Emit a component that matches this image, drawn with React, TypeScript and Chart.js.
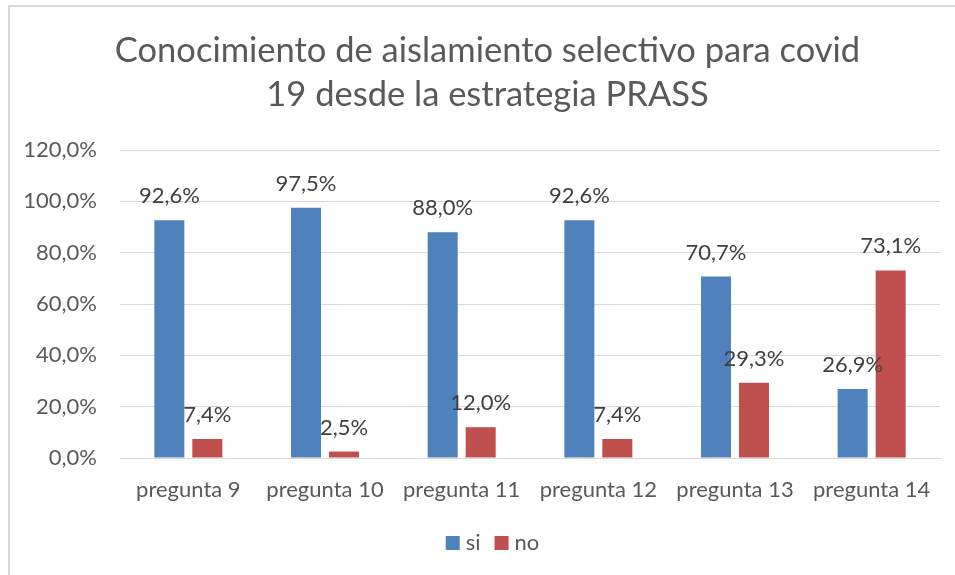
import React, { useEffect, useRef } from "react";
import { Chart, registerables } from "chart.js";

Chart.register(...registerables);

const categories = ["pregunta 9", "pregunta 10", "pregunta 11", "pregunta 12", "pregunta 13", "pregunta 14"];
const seriesNames = ["si", "no"];
const siValues = [92.6, 97.5, 88.0, 92.6, 70.7, 26.9];
const noValues = [7.4, 2.5, 12.0, 7.4, 29.3, 73.1];
const seriesColors = ["#4F81BD", "#C0504D"];
const titleLines = ["Conocimiento de aislamiento selectivo para covid", "19 desde la estrategia PRASS"];
const yMin = 0;
const yMax = 120;
const yStep = 20;

const FONT = "Lato, 'Open Sans', sans-serif";
const fmt = (v: number) => v.toFixed(1).replace(".", ",") + "%";

const titlePlugin = {
  id: "customTitle",
  afterDraw(chart: any) {
    const ctx = chart.ctx;
    ctx.save();
    ctx.font = `34.5px ${FONT}`;
    ctx.fillStyle = "#595959";
    ctx.textAlign = "center";
    ctx.textBaseline = "alphabetic";
    const cx = chart.width / 2 + 10;
    titleLines.forEach((line, i) => {
      ctx.fillText(line, cx, 62 + i * 43.5);
    });
    ctx.restore();
  },
};

const labelPlugin = {
  id: "barLabels",
  afterDatasetsDraw(chart: any) {
    const ctx = chart.ctx;
    ctx.save();
    ctx.font = `22px ${FONT}`;
    ctx.fillStyle = "#404040";
    ctx.textAlign = "center";
    ctx.textBaseline = "alphabetic";
    chart.data.datasets.forEach((ds: any, i: number) => {
      const meta = chart.getDatasetMeta(i);
      meta.data.forEach((bar: any, j: number) => {
        ctx.fillText(fmt(ds.data[j]), bar.x, bar.y - 17);
      });
    });
    ctx.restore();
  },
};

const legendPlugin = {
  id: "customLegend",
  afterDraw(chart: any) {
    const ctx = chart.ctx;
    ctx.save();
    ctx.font = `22px ${FONT}`;
    const box = 14;
    const gapText = 6;
    const gapItem = 14;
    const items = chart.data.datasets.map((ds: any) => ({
      label: ds.label,
      color: ds.backgroundColor,
      w: ctx.measureText(ds.label).width,
    }));
    let total = 0;
    items.forEach((it: any, i: number) => {
      total += box + gapText + it.w + (i < items.length - 1 ? gapItem : 0);
    });
    const cx = chart.width / 2 + 15;
    const cy = 543;
    let x = cx - total / 2;
    items.forEach((it: any) => {
      ctx.fillStyle = it.color;
      ctx.fillRect(x, cy - box / 2, box, box);
      x += box + gapText;
      ctx.fillStyle = "#595959";
      ctx.textAlign = "left";
      ctx.textBaseline = "middle";
      ctx.fillText(it.label, x, cy);
      x += it.w + gapItem;
    });
    ctx.restore();
  },
};

export default function App() {
  const ref = useRef<HTMLCanvasElement>(null);
  useEffect(() => {
    if (!ref.current) return;
    const chart = new Chart(ref.current, {
      type: "bar",
      data: {
        labels: categories,
        datasets: [
          { label: seriesNames[0], data: siValues, backgroundColor: seriesColors[0], categoryPercentage: 0.556, barPercentage: 0.79 },
          { label: seriesNames[1], data: noValues, backgroundColor: seriesColors[1], categoryPercentage: 0.556, barPercentage: 0.79 },
        ],
      },
      options: {
        animation: false,
        responsive: false,
        maintainAspectRatio: false,
        layout: { padding: { left: 10, right: 15, top: 150, bottom: 49 } },
        plugins: {
          title: { display: false },
          legend: { display: false },
          tooltip: { enabled: false },
        },
        scales: {
          x: {
            grid: { display: false, drawTicks: false },
            border: { display: true, color: "#d9d9d9" },
            ticks: { color: "#595959", font: { family: FONT, size: 22 }, padding: 19, maxRotation: 0 },
            afterFit: (s: any) => { s.height = 68; },
          },
          y: {
            min: yMin,
            max: yMax,
            grid: { color: "#d9d9d9", drawTicks: false },
            border: { display: false },
            ticks: {
              stepSize: yStep,
              color: "#595959",
              font: { family: FONT, size: 22 },
              padding: 23,
              callback: (v: any) => fmt(Number(v)),
            },
            afterFit: (s: any) => { s.width = 110; },
          },
        },
      },
      plugins: [titlePlugin, labelPlugin, legendPlugin],
    });
    return () => chart.destroy();
  }, []);
  return (
    <div style={{ position: "fixed", left: 0, top: 0, width: 955, height: 575, background: "#fff", overflow: "hidden" }}>
      <div style={{ position: "absolute", left: 8, top: 5, width: 960, height: 590, border: "2px solid #d9d9d9", boxSizing: "border-box" }} />
      <canvas ref={ref} width={955} height={575} style={{ position: "absolute", left: 0, top: 0 }} />
    </div>
  );
}
